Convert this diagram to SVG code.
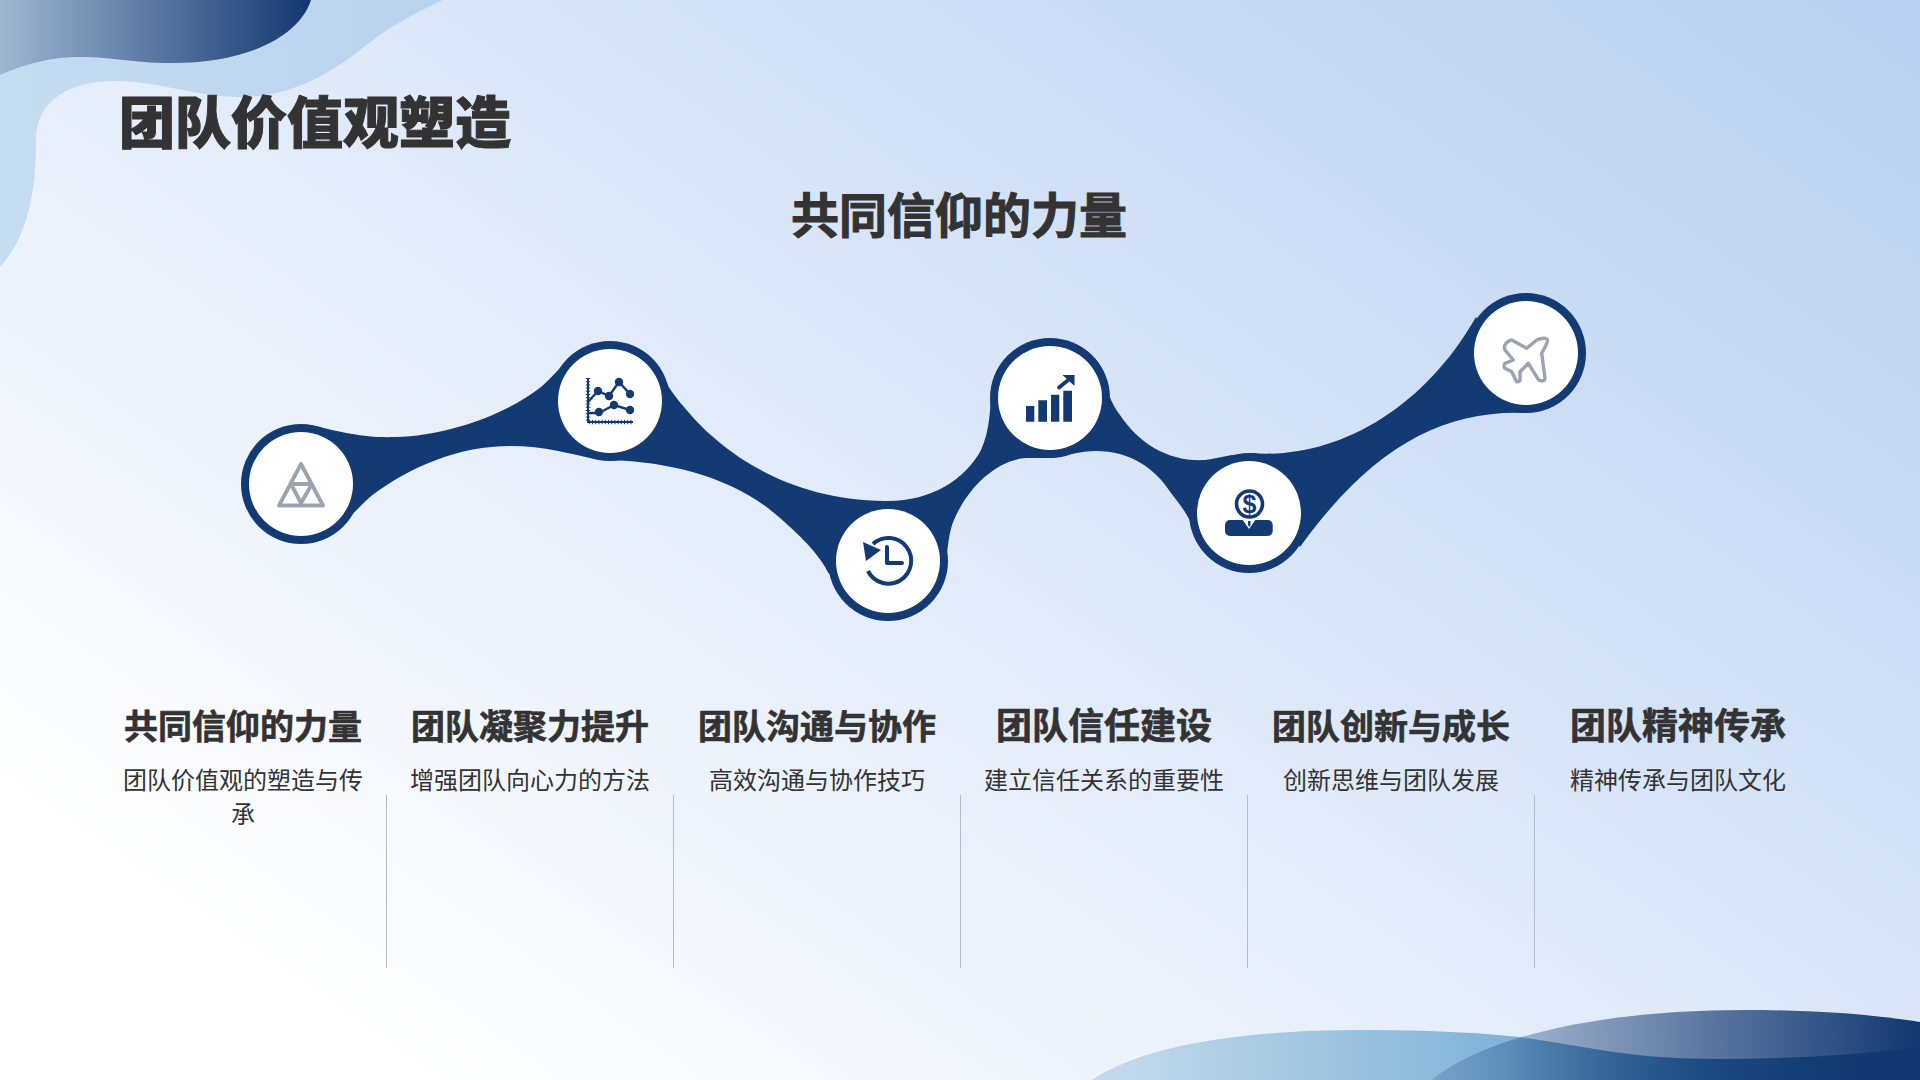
<svg xmlns="http://www.w3.org/2000/svg" width="1920" height="1080" viewBox="0 0 1920 1080">
<defs>
<linearGradient id="bg" gradientUnits="userSpaceOnUse" x1="-370" y1="533" x2="613" y2="-881"><stop offset="0" stop-color="#ffffff"/><stop offset="1" stop-color="#b8cff1"/></linearGradient>
<linearGradient id="tl1" gradientUnits="userSpaceOnUse" x1="0" y1="0" x2="443" y2="0"><stop offset="0" stop-color="#c6dcf1"/><stop offset="1" stop-color="#b9d2ee"/></linearGradient>
<linearGradient id="tl2" gradientUnits="userSpaceOnUse" x1="0" y1="0" x2="311" y2="0"><stop offset="0" stop-color="#a0b6d2"/><stop offset="1" stop-color="#123871"/></linearGradient>
<linearGradient id="br1" gradientUnits="userSpaceOnUse" x1="1092" y1="0" x2="1920" y2="0"><stop offset="0" stop-color="#c6dbec"/><stop offset="0.5" stop-color="#7fb3d8"/><stop offset="0.75" stop-color="#2c6a9f"/><stop offset="1" stop-color="#123871"/></linearGradient>
<linearGradient id="br2" gradientUnits="userSpaceOnUse" x1="1432" y1="0" x2="1920" y2="0"><stop offset="0" stop-color="#123871" stop-opacity="0.18"/><stop offset="1" stop-color="#123871" stop-opacity="1"/></linearGradient>
</defs>
<style>
text{font-family:"Noto Sans CJK SC","Noto Sans",sans-serif;fill:#333333;text-anchor:middle}
.title{font-size:56px;font-weight:900;text-anchor:start;stroke:#333333;stroke-width:1}
.sub{font-size:48px;font-weight:700;stroke:#333333;stroke-width:1}
.h{font-size:34px;font-weight:700;stroke:#333333;stroke-width:.6}
.h6{font-size:36px}
.d{font-size:24px;font-weight:400}
.ring{fill:#133a72}
.disc{fill:#ffffff}
.blob{fill:#133a72}
.navy{fill:#133a72}
.ns{fill:none;stroke:#133a72}
.gs{fill:none;stroke:#9ba3af;stroke-linejoin:round}
.rule{stroke:#b5bcc9;stroke-width:1}
</style>
<rect width="1920" height="1080" fill="url(#bg)"/>
<g id="decor">
<path fill="url(#tl1)" d="M0,0H443C410,15 385,30 364,47C335,70 295,97 240,97C195,97 160,81 115,81C70,81 36,100 36,140C36,185 30,235 0,267Z"/>
<path fill="url(#tl2)" d="M0,0H311C300,35 250,63 171,63C130,63 115,57 80,57C50,57 25,64 0,75Z"/>
<path fill="url(#br1)" d="M1092,1080C1140,1048 1230,1030 1362,1030C1430,1030 1490,1033 1526,1038C1590,1047 1630,1059 1718,1059C1790,1059 1860,1055 1920,1047V1080Z"/>
<path fill="url(#br2)" d="M1432,1080C1480,1040 1590,1010 1746,1010C1810,1010 1870,1014 1920,1022V1080Z"/>
</g>
<text class="title" x="119" y="143">团队价值观塑造</text>
<text class="sub" x="959" y="233">共同信仰的力量</text>
<g id="connectors">
<path class="blob" d="M310,425C345,433 365,438 395,437C450,436 510,412 541,387C552,378 558,368 572,358L600,460C570,454 545,446 510,446C460,446 410,466 370,497C355,510 345,525 325,538Z"/>
<path class="blob" d="M648,355C660,370 665,385 684,407C715,445 780,500 885,501L829,574C820,556 805,540 780,518C740,482 680,462 609,460Z"/>
<path class="blob" d="M885,501C930,502 965,480 981,450C990,430 990,410 992,385L1054,458C1045,458 1035,458 1026,458C995,460 965,490 952,525C946,545 948,565 940,590Z"/>
<path class="blob" d="M1095,358C1105,375 1105,395 1120,415C1140,445 1170,462 1205,460C1220,458 1230,454 1250,454L1191,523C1186,512 1180,505 1171,493C1155,468 1130,451 1096,451C1080,451 1065,456 1050,458Z"/>
<path class="blob" d="M1250,453C1330,460 1420,415 1476,317L1525,413C1440,410 1370,450 1300,547Z"/>
</g>
<g id="node-1">
<circle class="ring" cx="301" cy="484" r="60"/><circle class="disc" cx="301" cy="484" r="52"/>
<path class="gs" stroke-width="3.800" d="M301,464L323,505.500H279ZM291,484H312M291,484L301,503L312,484"/>
</g>
<g id="node-2">
<circle class="ring" cx="610" cy="401" r="60"/><circle class="disc" cx="610" cy="401" r="52"/>
<path class="ns" stroke-width="2" d="M588,378V422H633"/>
<path class="ns" stroke-width="4.500" stroke-dasharray="1 2.200" d="M588,378V422H633"/>
<path class="ns" stroke-width="2.400" d="M588,402L598,391L609,396L619,382L630,394M588,413H599L614,405L630,410"/>
<g class="navy"><circle cx="598" cy="391" r="4.200"/><circle cx="609" cy="396" r="4.200"/><circle cx="619" cy="382" r="4.200"/><circle cx="630" cy="394" r="4.200"/><circle cx="599" cy="412" r="4.200"/><circle cx="614" cy="405" r="4.200"/><circle cx="630" cy="410" r="4.200"/></g>
</g>
<g id="node-3">
<circle class="ring" cx="888" cy="561" r="60"/><circle class="disc" cx="888" cy="561" r="52"/>
<path class="ns" stroke-width="4" d="M873,544A22.800,22.800 0 1 1 868,571"/>
<path class="navy" d="M863,542L881,550L866,561Z"/>
<path class="ns" stroke-width="4" stroke-linecap="round" stroke-linejoin="round" d="M887,547V563H902"/>
</g>
<g id="node-4">
<circle class="ring" cx="1050" cy="398" r="60"/><circle class="disc" cx="1050" cy="398" r="52"/>
<path class="navy" d="M1026,406H1034.300V421.700H1026ZM1038.300,400.300H1047V421.700H1038.300ZM1051,394.700H1059.300V421.700H1051ZM1063.300,390.700H1072V421.700H1063.300Z"/>
<path class="ns" stroke-width="3.800" stroke-linecap="round" d="M1059,387.500L1072,377"/>
<path class="navy" d="M1062.500,375H1074.500V386Z"/>
</g>
<g id="node-5">
<circle class="ring" cx="1249" cy="513" r="60"/><circle class="disc" cx="1249" cy="513" r="52"/>
<circle cx="1249.500" cy="504" r="13" fill="#ffffff" stroke="#133a72" stroke-width="3.600"/>
<text x="1249.500" y="513" style="font-family:'Liberation Sans',sans-serif;font-size:25px;font-weight:700;fill:#133a72">$</text>
<rect class="navy" x="1225" y="520" width="47.700" height="16" rx="5"/>
<path class="disc" d="M1242,519H1256L1249,529Z"/>
<path class="navy" d="M1248,521H1250.500L1250.500,525L1249.200,527L1248,525Z"/>
</g>
<g id="node-6">
<circle class="ring" cx="1526" cy="353" r="60"/><circle class="disc" cx="1526" cy="353" r="52"/>
<path class="gs" stroke-width="3.400" d="M1536.700,340C1540,338.500 1543,338 1545,338.300C1547.500,339 1547.800,340 1547.300,341.700C1546,346 1544,349 1541.700,353.300L1545,378.300C1545,380 1543.500,381 1541.700,380.700C1540,380.800 1539,380.500 1538.300,379.300L1528.300,363.300L1520,371.700L1520,380C1519.500,381.500 1518,382 1516.700,381.700L1511.700,371.700L1505,368.300C1503.700,367 1503.700,364.500 1505,363.300L1513.300,360L1505,350C1504,347.500 1504.500,345 1506,343.300C1508,341 1510,340.300 1511.700,340L1526.700,348.300Z"/>
</g>
<g id="col-1"><text class="h" x="243" y="739">共同信仰的力量</text><text class="d" x="243" y="789">团队价值观的塑造与传</text><text class="d" x="243" y="823">承</text></g>
<g id="col-2"><text class="h" x="530" y="739">团队凝聚力提升</text><text class="d" x="530" y="789">增强团队向心力的方法</text></g>
<g id="col-3"><text class="h" x="817" y="739">团队沟通与协作</text><text class="d" x="817" y="789">高效沟通与协作技巧</text></g>
<g id="col-4"><text class="h h6" x="1104" y="739">团队信任建设</text><text class="d" x="1104" y="789">建立信任关系的重要性</text></g>
<g id="col-5"><text class="h" x="1391" y="739">团队创新与成长</text><text class="d" x="1391" y="789">创新思维与团队发展</text></g>
<g id="col-6"><text class="h h6" x="1678" y="739">团队精神传承</text><text class="d" x="1678" y="789">精神传承与团队文化</text></g>
<g id="rules">
<line class="rule" x1="386.500" y1="795" x2="386.500" y2="968"/>
<line class="rule" x1="673.500" y1="795" x2="673.500" y2="968"/>
<line class="rule" x1="960.500" y1="795" x2="960.500" y2="968"/>
<line class="rule" x1="1247.500" y1="795" x2="1247.500" y2="968"/>
<line class="rule" x1="1534.500" y1="795" x2="1534.500" y2="968"/>
</g>
</svg>
